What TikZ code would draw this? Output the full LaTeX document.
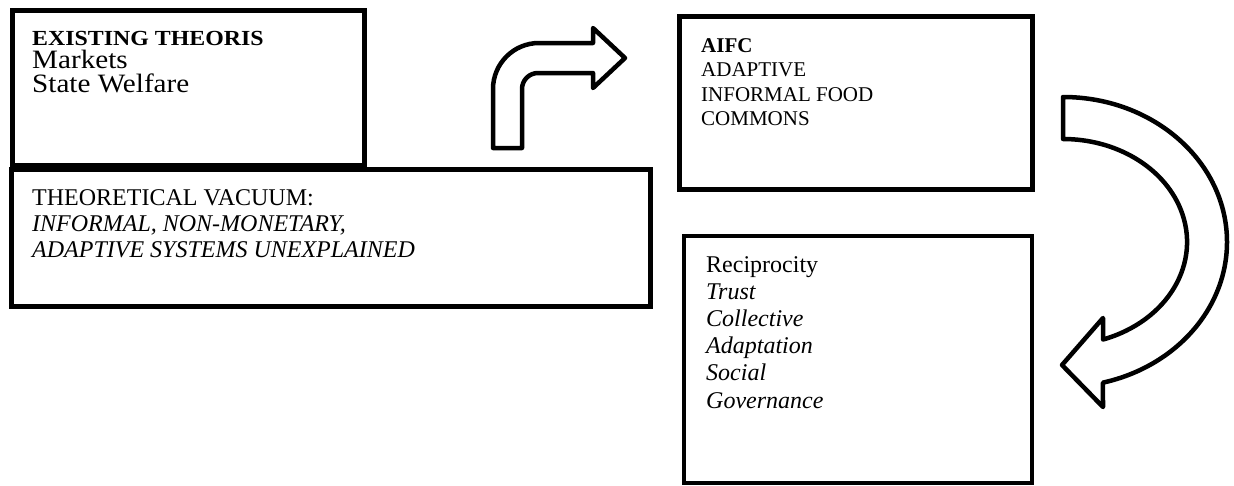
\documentclass[tikz,border=0pt]{standalone}
\usepackage{fontspec}
\setmainfont{Liberation Serif}
\usepackage{tikz}
\usetikzlibrary{calc}

\begin{document}
\begin{tikzpicture}[x=1pt,y=-1pt]
	\tikzstyle{frame} = [draw, line width=5pt]
	\tikzstyle{bigarrow} = [draw, line width=4.5pt, line join=round, fill=white]
	\tikzstyle{txt} = [anchor=base west, inner sep=0pt]
	\useasboundingbox (0,0) rectangle (1234,485);
	% boxes
	\coordinate (E1) at (12.5,10);  \coordinate (E2) at (364.5,165);
	\coordinate (V1) at (11,169.5); \coordinate (V2) at (650,306.5);
	\coordinate (A1) at (679,16);   \coordinate (A2) at (1032,189);
	\coordinate (R1) at (684,236);  \coordinate (R2) at (1032,482.5);
	\draw[frame] (E1) rectangle (E2);
	\draw[frame] (V1) rectangle (V2);
	\draw[frame] (A1) rectangle (A2);
	\draw[frame, line width=4pt] (R1) rectangle (R2);
	% texts
	\node[txt, font=\fontsize{21.5}{22}\bfseries\selectfont] (exist-0) at (32,45) {\scalebox{1.11}[1]{EXISTING THEORIS}};
	\node[txt, font=\fontsize{26.5}{27}\selectfont] (exist-1) at (32,68) {\scalebox{1.1}[1]{Markets}};
	\node[txt, font=\fontsize{26.5}{27}\selectfont] (exist-2) at (32,92) {\scalebox{1.1}[1]{State Welfare}};
	\node[txt, font=\fontsize{24}{24}\selectfont] (vacuum-0) at (32,205) {THEORETICAL VACUUM:};
	\node[txt, font=\fontsize{24}{24}\itshape\selectfont] (vacuum-1) at (32,231) {INFORMAL, NON-MONETARY,};
	\node[txt, font=\fontsize{24}{24}\itshape\selectfont] (vacuum-2) at (32,257) {ADAPTIVE SYSTEMS UNEXPLAINED};
	\node[txt, font=\fontsize{21}{21}\bfseries\selectfont] (aifc-0) at (701,52) {AIFC};
	\foreach \w [count=\i] in {ADAPTIVE, INFORMAL FOOD, COMMONS}
		\node[txt, font=\fontsize{21}{21}\selectfont] (aifc-\i) at (701,52+24.5*\i) {\w};
	\node[txt, font=\fontsize{24}{24}\selectfont] (recip-0) at (706,272.5) {Reciprocity};
	\foreach \w [count=\i] in {Trust, Collective, Adaptation, Social, Governance}
		\node[txt, font=\fontsize{24}{24}\itshape\selectfont] (recip-\i) at (706,272.5+27.1*\i) {\w};
	% bent arrow
	\draw[bigarrow] (493,148) -- (493,89) arc[start angle=180, end angle=90, radius=46pt]
		-- (593,43) -- (593,28) -- (625,58) -- (593,88) -- (593,73) -- (538,73)
		arc[start angle=90, end angle=180, radius=16pt] -- (522,148) -- cycle;
	% curved arrow
	\draw[bigarrow] (1063,97) arc[start angle=90, end angle=-75.9, x radius=164pt, y radius=145pt]
		-- (1103,407) -- (1062,365) -- (1103,318) -- (1103,339.5)
		arc[start angle=-71.2, end angle=90, x radius=124pt, y radius=103pt] -- cycle;
\end{tikzpicture}
\end{document}
